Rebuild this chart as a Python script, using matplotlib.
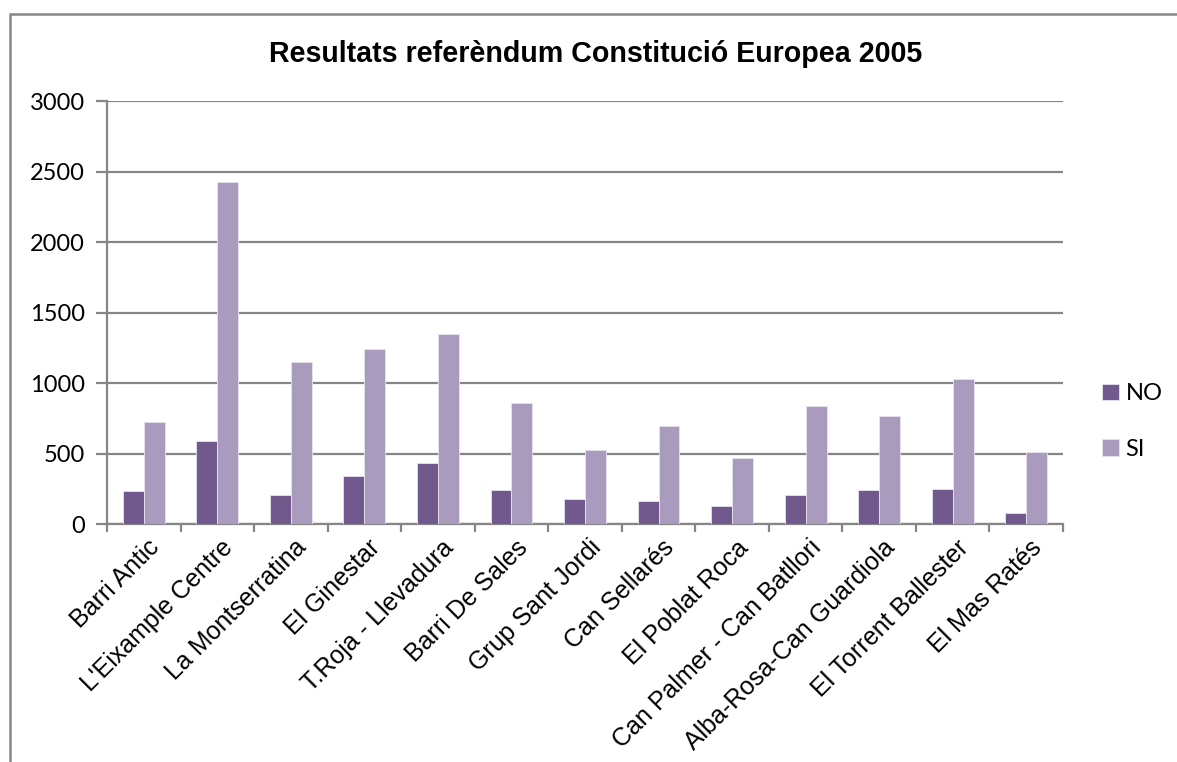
import matplotlib
matplotlib.use("Agg")
import matplotlib.pyplot as plt
import numpy as np
from matplotlib.patches import Rectangle

categories = ["Barri Antic", "L'Eixample Centre", "La Montserratina", "El Ginestar",
              "T.Roja - Llevadura", "Barri De Sales", "Grup Sant Jordi", "Can Sellarés",
              "El Poblat Roca", "Can Palmer - Can Batllori", "Alba-Rosa-Can Guardiola",
              "El Torrent Ballester", "El Mas Ratés"]
no_values = [235, 590, 207, 345, 435, 240, 180, 168, 132, 208, 240, 250, 82]
si_values = [728, 2425, 1152, 1242, 1352, 858, 525, 697, 473, 837, 767, 1030, 512]
series_names = ["NO", "SI"]
yticks = [0, 500, 1000, 1500, 2000, 2500, 3000]

plt.rcParams['font.family'] = ['Liberation Sans', 'DejaVu Sans']

W, H = 1177, 762
fig = plt.figure(figsize=(W / 100, H / 100), dpi=100)
ax = fig.add_axes([107 / W, 1 - 524.3 / H, (1063 - 107) / W, (524.3 - 101) / H])

x = np.arange(len(categories))
bw = 0.285
c_no = "#71598E"
c_si = "#A99BBD"
ax.bar(x - bw / 2, no_values, width=bw, color=c_no, edgecolor="#e8e4ee", linewidth=0.6,
       label=series_names[0], zorder=3)
ax.bar(x + bw / 2, si_values, width=bw, color=c_si, edgecolor="#e8e4ee", linewidth=0.6,
       label=series_names[1], zorder=3)

ax.set_xlim(-0.5, len(categories) - 0.5)
ax.set_ylim(0, 3000)
ax.set_yticks(yticks)
ax.set_yticklabels([str(v) for v in yticks], fontsize=17, family=['Lato', 'DejaVu Sans'])
ax.yaxis.grid(True, color="#868686", linewidth=1.6, zorder=0)
ax.set_axisbelow(True)

for s in ["top", "right"]:
    ax.spines[s].set_visible(False)
for s in ["left", "bottom"]:
    ax.spines[s].set_color("#868686")
    ax.spines[s].set_linewidth(1.6)

ax.tick_params(axis="y", length=8, width=1.6, color="#868686", pad=8)
ax.set_xticks(np.arange(len(categories) + 1) - 0.5, minor=False)
ax.set_xticklabels([])
ax.tick_params(axis="x", length=6, width=1.6, color="#868686")
ax.set_xticks(x + 0.05, minor=True)
ax.set_xticklabels(categories, minor=True, rotation=45, ha="right", va="top",
                   rotation_mode="anchor", fontsize=18,
                   family=['Liberation Sans', 'DejaVu Sans'])
ax.tick_params(axis="x", which="minor", length=0, pad=8)

fig.text(595.5 / W, 1 - 61.7 / H, "Resultats referèndum Constitució Europea 2005",
         ha="center", va="baseline", fontsize=20.6, fontweight="bold")

leg = fig.legend(loc="center left", bbox_to_anchor=(1102 / W, 1 - 421.5 / H), frameon=False,
                 prop={'family': ['Lato', 'DejaVu Sans'], 'size': 17},
                 handlelength=0.7, handleheight=0.7, handletextpad=0.3,
                 labelspacing=1.45, borderaxespad=0, borderpad=0)

fig.add_artist(Rectangle((10 / W, -0.1), 1.2, 1.1 - 14 / H, transform=fig.transFigure,
                         fill=False, edgecolor="#868686", linewidth=1.8))

fig.savefig("out.png", dpi=100)
